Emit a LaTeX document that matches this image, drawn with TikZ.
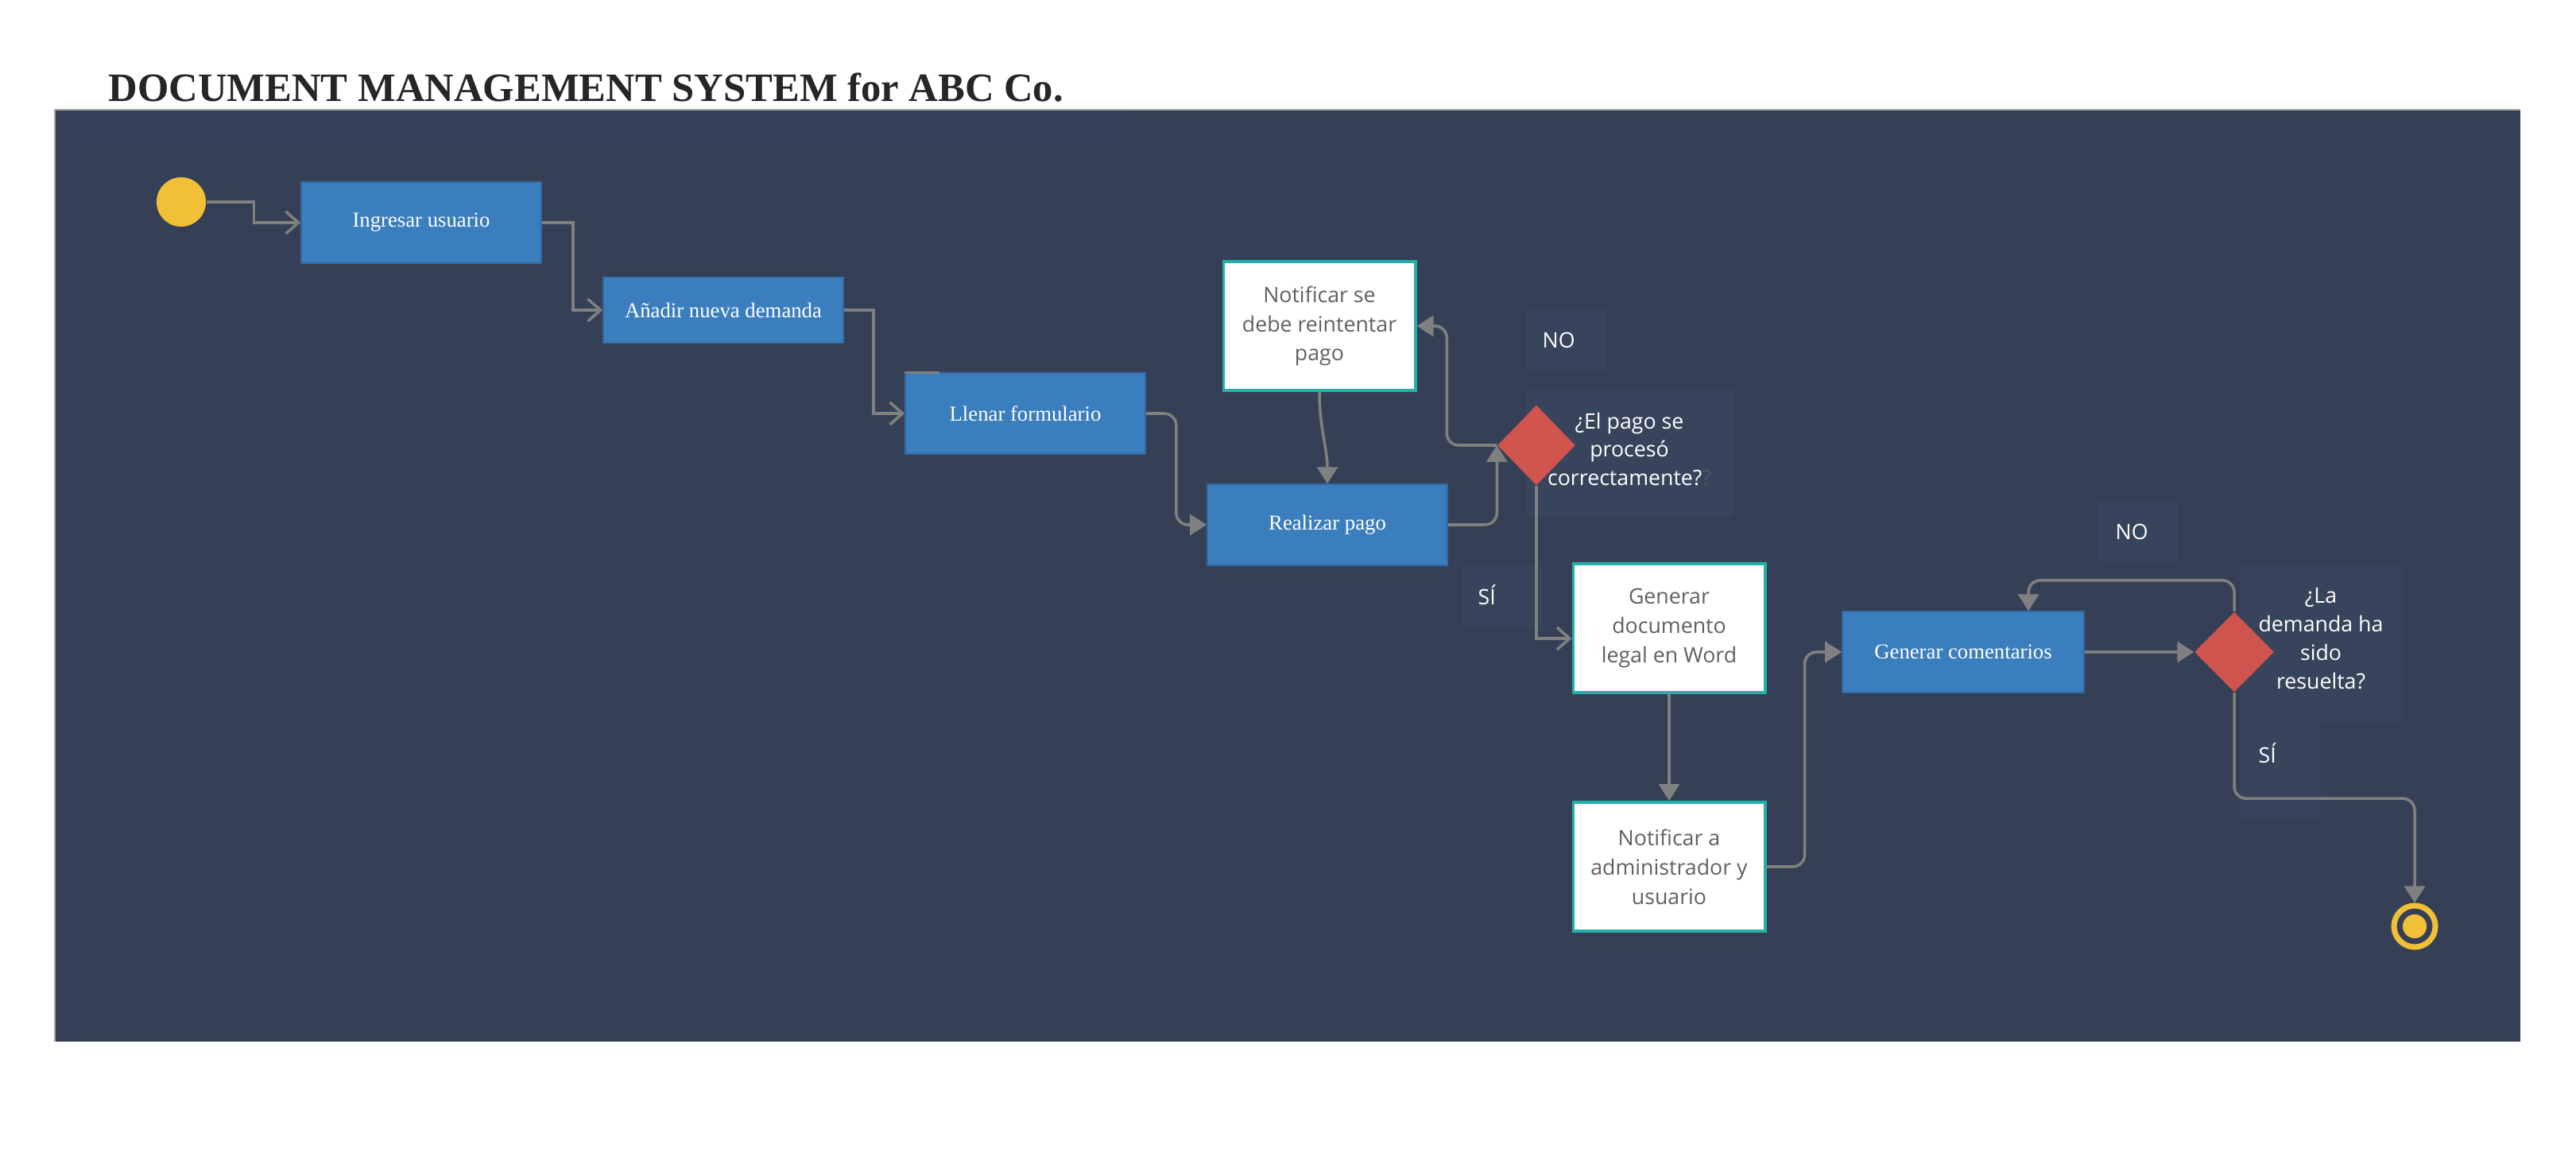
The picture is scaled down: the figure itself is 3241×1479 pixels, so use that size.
\documentclass[tikz,border=0pt]{standalone}
\usepackage{fontspec}
\setmainfont{Liberation Serif}
\newfontfamily\opensans{Open Sans}
\usetikzlibrary{shapes.geometric,arrows.meta}
\definecolor{dmsbg}{HTML}{354057}
\definecolor{dmsband}{HTML}{37425A}
\definecolor{dmslabel}{HTML}{38445B}
\definecolor{dmsblue}{HTML}{3A7EBD}
\definecolor{dmsblueedge}{HTML}{3169A2}
\definecolor{dmsteal}{HTML}{22B1AA}
\definecolor{dmsred}{HTML}{D0554F}
\definecolor{dmsyellow}{HTML}{F2C037}
\definecolor{dmsgrey}{HTML}{808080}
\definecolor{dmstext}{HTML}{606060}
\definecolor{dmsfaint}{HTML}{4C5667}
\definecolor{dmstitle}{HTML}{262626}

\begin{document}
\begin{tikzpicture}[x=0.01cm, y=-0.01cm,
        task/.style={rectangle, fill=dmsblue, draw=dmsblueedge, line width=0.4pt, text=white, font=\fontsize{7.6}{10}\selectfont, minimum width=3.02cm, minimum height=1.02cm, inner sep=0pt},
        note/.style={rectangle, fill=white, draw=dmsteal, line width=1.1pt, text=dmstext, font=\opensans\fontsize{7.6}{10.5}\selectfont, align=center, minimum width=2.41cm, minimum height=1.62cm, inner sep=0pt},
        choice/.style={diamond, fill=dmsred, minimum width=0.98cm, minimum height=1.01cm, inner sep=0pt},
        tag/.style={text=white, font=\opensans\fontsize{7.6}{10.2}\selectfont, align=center, inner sep=0pt},
        flow/.style={draw=dmsgrey, line width=1pt},
        openarrow/.style={flow, -{Straight Barb[length=1.6mm, width=2.8mm]}},
        fullarrow/.style={flow, rounded corners=0.15cm, -{Triangle[length=2.1mm, width=2.6mm]}}]
        \useasboundingbox (0,0) rectangle (3241,1479);
        \fill[white] (0,0) rectangle (3241,1479);
        \fill[dmsbg] (69,138) rectangle (3171,1310);
        \fill[dmsband] (69,140) rectangle (1422,182);
        \draw[gray!70, line width=0.4pt] (69,1310) -- (69,138) -- (3171,138);

        \node[anchor=base west, inner sep=0pt, text=dmstitle, font=\fontsize{14.4}{17}\selectfont\bfseries] (title) at (136,128) {DOCUMENT MANAGEMENT SYSTEM for ABC Co.};

        % faint text boxes behind the labels
        \fill[dmslabel] (1920,389) rectangle (2020,466);
        \fill[dmslabel] (1920,490) rectangle (2181,650);
        \fill[dmslabel] (1839,710) rectangle (1940,790);
        \fill[dmslabel] (2640,630) rectangle (2740,706);
        \fill[dmslabel] (2819,709) rectangle (3021,910);
        \fill[dmslabel] (2819,910) rectangle (2920,1029);

        \node[circle, fill=dmsyellow, minimum size=0.62cm, inner sep=0pt] (start) at (228,254) {};
        \node[task] (ingresar) at (530,280) {Ingresar usuario};
        \node[task, minimum height=0.83cm] (anadir) at (910,390) {Añadir nueva demanda};
        \node[task] (llenar) at (1290,520) {Llenar formulario};
        \node[task] (realizar) at (1670,660) {Realizar pago};
        \node[note] (reintentar) at (1660,410) {Notificar se\\debe reintentar\\pago};
        \node[choice] (pago) at (1933,560) {};
        \node[note] (generar) at (2100,790) {Generar\\documento\\legal en Word};
        \node[note] (notificar) at (2100,1090) {Notificar a\\administrador y\\usuario};
        \node[task, minimum width=3.04cm] (comentarios) at (2470,820) {Generar comentarios};
        \node[choice, minimum width=1cm] (resuelta) at (2811,820) {};
        \node[circle, draw=dmsyellow, line width=2pt, fill=dmsbg, minimum size=0.52cm, inner sep=0pt] (finish) at (3038,1165) {};
        \fill[dmsyellow] (finish.center) circle[radius=0.15cm];

        \node[tag, anchor=west] (nopago) at (1940,428) {NO};
        \node[tag, anchor=west] (sipago) at (1859,748) {SÍ};
        \node[tag] (qpago) at (2050,565) {¿El pago se\\procesó\\correctamente?{\color{dmsfaint}?}};
        \node[tag, anchor=west] (noresuelta) at (2661,669) {NO};
        \node[tag, anchor=west] (siresuelta) at (2841,947) {SÍ};
        \node[tag] (qresuelta) at (2920,803) {¿La\\demanda ha\\sido\\resuelta?};

        \draw[openarrow] (start.east) -- ++(60,0) |- (ingresar.west);
        \draw[openarrow] (ingresar.east) -- ++(39,0) |- (anadir.west);
        \draw[openarrow] (anadir.east) -- ++(37,0) |- (llenar.west);
        \draw[flow] (llenar.north west) -- ++(44,0);
        \draw[fullarrow] (llenar.east) -- ++(38,0) |- (realizar.west);
        \draw[fullarrow] (reintentar.south) to[out=-90, in=90] (realizar.north);
        \draw[fullarrow] (realizar.east) -| (pago.west);
        \draw[fullarrow] (pago.west) -- ++(-63,0) |- (reintentar.east);
        \draw[openarrow] (pago.south) |- ([yshift=-0.13cm]generar.west);
        \draw[fullarrow] (generar.south) -- (notificar.north);
        \draw[fullarrow] (notificar.east) -- ++(48,0) |- (comentarios.west);
        \draw[fullarrow] (comentarios.east) -- (resuelta.west);
        \draw[fullarrow] (resuelta.north) -- ++(0,-39) -| ([xshift=0.82cm]comentarios.north);
        \draw[fullarrow] (resuelta.south) -- ++(0,133) -| (finish.north);
\end{tikzpicture}
\end{document}
